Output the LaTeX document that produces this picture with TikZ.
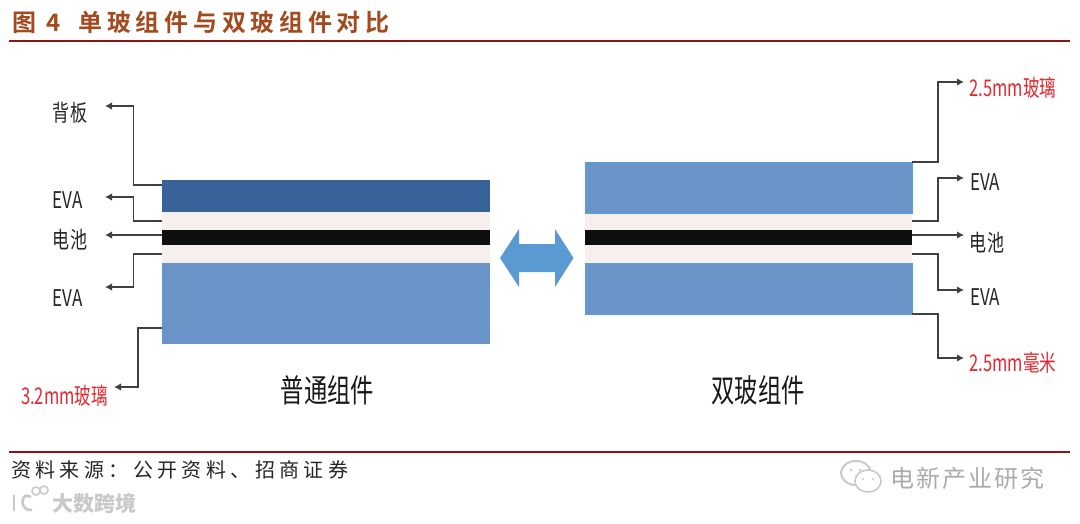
\documentclass[tikz,border=0pt]{standalone}
\usepackage{fontspec}
\usepackage{graphicx}
\usetikzlibrary{arrows.meta}
\setmainfont{Noto Sans CJK SC}
\newfontfamily\titlefont[LetterSpace=19.5]{Noto Sans CJK SC Bold}
\newfontfamily\srcfont[LetterSpace=22]{Noto Sans CJK SC}
\newfontfamily\markfont[LetterSpace=9]{Noto Sans CJK SC}
\definecolor{titlecol}{HTML}{A34A1E}
\definecolor{rulecol}{HTML}{8E1412}
\definecolor{glass}{HTML}{6A94C7}
\definecolor{back}{HTML}{38639A}
\definecolor{evacol}{HTML}{F7EEEE}
\definecolor{cellcol}{HTML}{0F0F0F}
\definecolor{edgecol}{HTML}{4FA3DE}
\definecolor{arrowcol}{HTML}{5A9AD2}
\definecolor{redtxt}{HTML}{E8262F}
\definecolor{wm}{HTML}{C9C9C9}
\tikzset{
  layer/.style={rectangle,inner sep=0pt,outer sep=0pt,draw=none},
  lbl/.style={inner sep=0pt,text=black!85,font=\fontsize{23}{25}\selectfont},
  redlbl/.style={lbl,text=redtxt},
  big/.style={inner sep=0pt,text=black!90,font=\fontsize{32}{34}\selectfont},
  conn/.style={draw=black!75,line width=1.3pt,-{Latex[length=7pt,width=7.5pt]}},
  rulel/.style={draw=rulecol,line width=2.2pt},
}
\begin{document}
\begin{tikzpicture}[x=1pt,y=-1pt]
\useasboundingbox (0,0) rectangle (1080,523);
\fill[white] (0,0) rectangle (1080,523);
% title and rules
\node[anchor=west,inner sep=0pt,text=titlecol,font=\fontsize{24}{26}\selectfont\titlefont] (title) at (12,22) {图 4 \hspace{8pt}单玻组件与双玻组件对比};
\coordinate (r1a) at (9,41); \coordinate (r1b) at (1070,41);
\coordinate (r2a) at (9,452); \coordinate (r2b) at (1070,452);
\draw[rulel] (r1a) -- (r1b);
\draw[rulel] (r2a) -- (r2b);
% left stack
\node[layer,fill=back,minimum width=328pt,minimum height=32pt] (lback) at (326,196) {};
\node[layer,fill=evacol,minimum width=328pt,minimum height=18pt] (leva1) at (326,221) {};
\node[layer,fill=evacol,minimum width=328pt,minimum height=18pt] (leva2) at (326,254) {};
\node[layer,fill=cellcol,minimum width=328pt,minimum height=15.5pt] (lcell) at (326,237.5) {};
\node[layer,fill=glass,minimum width=328pt,minimum height=81pt] (lglass) at (326,303.5) {};
% right stack
\node[layer,fill=evacol,minimum width=327pt,minimum height=18pt] (reva1) at (748.5,221) {};
\node[layer,fill=evacol,minimum width=327pt,minimum height=18pt] (reva2) at (748.5,254) {};
\node[layer,fill=cellcol,minimum width=327pt,minimum height=15.5pt] (rcell) at (748.5,237.5) {};
\node[layer,fill=glass,draw=edgecol,line width=1pt,minimum width=327pt,minimum height=51pt] (rtop) at (748.5,187.5) {};
\node[layer,fill=glass,draw=edgecol,line width=1pt,minimum width=327pt,minimum height=51pt] (rbot) at (748.5,288.5) {};
% double arrow
\fill[arrowcol] (500,258) -- (519,229) -- (519,244) -- (555,244) -- (555,229) -- (573.5,258) -- (555,287) -- (555,272) -- (519,272) -- (519,287) -- cycle;
% left labels
\node[lbl] (lbbl) at (70,113) {\scalebox{.74}[1]{背板}};
\node[lbl] (lev1) at (67.5,200) {\scalebox{.74}[1]{EVA}};
\node[lbl] (lcl) at (70,240) {\scalebox{.74}[1]{电池}};
\node[lbl] (lev2) at (67.5,298) {\scalebox{.74}[1]{EVA}};
\node[redlbl] (lgl) at (64.5,396) {\scalebox{.72}[1]{3.2mm玻璃}};
% right labels
\node[redlbl] (rgl) at (1013,88) {\scalebox{.72}[1]{2.5mm玻璃}};
\node[lbl] (rev1) at (985,182) {\scalebox{.74}[1]{EVA}};
\node[lbl] (rcl) at (987,243) {\scalebox{.74}[1]{电池}};
\node[lbl] (rev2) at (985,297) {\scalebox{.74}[1]{EVA}};
\node[redlbl] (rbt) at (1013,363) {\scalebox{.72}[1]{2.5mm毫米}};
\node[big] (cap1) at (327.5,390) {\scalebox{.73}[1]{普通组件}};
\node[big] (cap2) at (758,390) {\scalebox{.73}[1]{双玻组件}};
% left connectors
\coordinate (e1) at (105,106); \coordinate (e2) at (105,197); \coordinate (e3) at (105,235); \coordinate (e4) at (105,287); \coordinate (e5) at (114,387);
\coordinate (s1) at (lback.west |- 0,185); \coordinate (s2) at (leva1.west); \coordinate (s3) at (lcell.west |- 0,235); \coordinate (s4) at (leva2.west); \coordinate (s5) at (lglass.west |- 0,328);
\draw[conn] (s1) -- (133.5,185) -- (133.5,106) -- (e1);
\draw[conn] (s2) -- (133.5,221) -- (133.5,197) -- (e2);
\draw[conn] (s3) -- (e3);
\draw[conn] (s4) -- (133.5,254) -- (133.5,287) -- (e4);
\draw[conn] (s5) -- (138,328) -- (138,387) -- (e5);
% right connectors
\coordinate (f1) at (964,82); \coordinate (f2) at (964,178); \coordinate (f3) at (964,235); \coordinate (f4) at (964,290); \coordinate (f5) at (964,358);
\coordinate (t1) at (rtop.north east); \coordinate (t2) at (reva1.east); \coordinate (t3) at (rcell.east |- 0,235); \coordinate (t4) at (reva2.east); \coordinate (t5) at (rbot.south east);
\draw[conn] (t1) -- (938,162) -- (938,82) -- (f1);
\draw[conn] (t2) -- (938,221) -- (938,178) -- (f2);
\draw[conn] (t3) -- (f3);
\draw[conn] (t4) -- (938,254) -- (938,290) -- (f4);
\draw[conn] (t5) -- (938,314) -- (938,358) -- (f5);
% source
\node[anchor=west,inner sep=0pt,text=black!85,font=\fontsize{20}{22}\selectfont\srcfont] (src) at (11,470) {资料来源：公开资料、招商证券};
% watermarks
\draw[wm,line width=2pt,fill=white] (856,473) ellipse (15 and 12);
\fill[wm] (851,470) circle (1.3) (860,470) circle (1.3);
\draw[wm,line width=1.6pt,fill=white] (868,481) ellipse (13 and 11);
\fill[wm] (863,479) circle (1.2) (873,479) circle (1.2);
\node[anchor=west,inner sep=0pt,text=wm!85!black,font=\fontsize{24}{26}\selectfont\markfont] (wm1) at (890,478) {电新产业研究};
\draw[wm,line width=2.6pt] (14,495) -- (14,511);
\draw[wm,line width=2.6pt] (31,497) .. controls (20,490) and (19,512) .. (32,510);
\draw[wm,line width=1.6pt] (36,491) circle (4);
\draw[wm,line width=1.6pt] (44,490) circle (4);
\node[anchor=west,inner sep=0pt,text=wm,font=\fontsize{21}{23}\selectfont\bfseries] (wm2) at (52,503) {大数跨境};
\end{tikzpicture}
\end{document}
